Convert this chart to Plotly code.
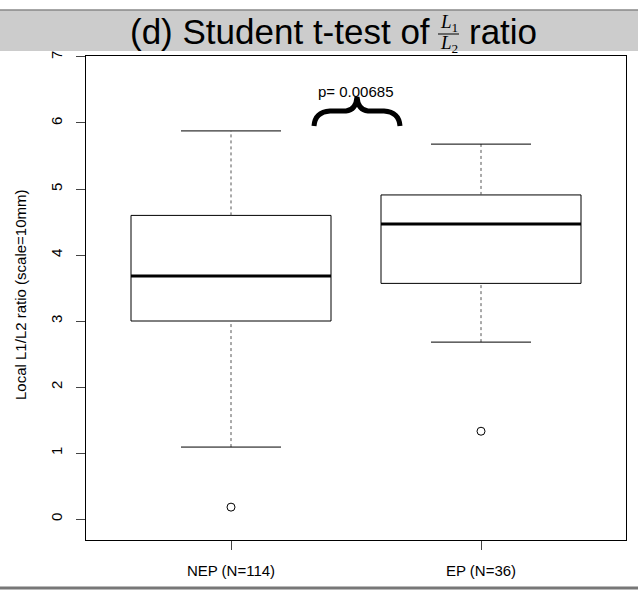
import plotly.graph_objects as go

# ---- data ----
categories = ["NEP (N=114)", "EP (N=36)"]
positions = [1, 2]
q1 = [3.00, 3.57]
median = [3.68, 4.47]
q3 = [4.60, 4.91]
lower_whisker = [1.09, 2.68]
upper_whisker = [5.88, 5.68]
outliers = [[0.18], [1.33]]
y_ticks = [0, 1, 2, 3, 4, 5, 6, 7]
p_value_text = "p= 0.00685"

W, H = 638, 591
L, R, T, B = 86, 12, 56, 51
PW, PH = W - L - R, H - T - B


def px(x):
    return (x - L) / PW


def py(y):
    return (H - B - y) / PH


FONT = "Liberation Sans, Arial, Helvetica, sans-serif"
fig = go.Figure()

half_box = 0.4
half_cap = 0.2
for i, pos in enumerate(positions):
    # box
    fig.add_trace(go.Scatter(
        x=[pos - half_box, pos + half_box, pos + half_box, pos - half_box, pos - half_box],
        y=[q1[i], q1[i], q3[i], q3[i], q1[i]],
        mode="lines", line=dict(color="black", width=1), hoverinfo="skip", showlegend=False))
    # whiskers
    fig.add_trace(go.Scatter(
        x=[pos, pos, None, pos, pos],
        y=[q3[i], upper_whisker[i], None, lower_whisker[i], q1[i]],
        mode="lines", line=dict(color="#555555", width=1, dash="3px,3px"),
        hoverinfo="skip", showlegend=False))
    # caps
    fig.add_trace(go.Scatter(
        x=[pos - half_cap, pos + half_cap, None, pos - half_cap, pos + half_cap],
        y=[upper_whisker[i], upper_whisker[i], None, lower_whisker[i], lower_whisker[i]],
        mode="lines", line=dict(color="black", width=1), hoverinfo="skip", showlegend=False))
    # median
    fig.add_trace(go.Scatter(
        x=[pos - half_box, pos + half_box], y=[median[i], median[i]],
        mode="lines", line=dict(color="black", width=3), hoverinfo="skip", showlegend=False))
    # outliers
    fig.add_trace(go.Scatter(
        x=[pos] * len(outliers[i]), y=outliers[i], mode="markers",
        marker=dict(symbol="circle-open", size=8, color="black", line=dict(width=1)),
        hoverinfo="skip", showlegend=False))

shapes = []
# title band
shapes.append(dict(type="rect", xref="paper", yref="paper",
                   x0=px(0), x1=px(W), y0=py(51), y1=py(10),
                   fillcolor="#cccccc", line=dict(width=0), layer="below"))
shapes.append(dict(type="line", xref="paper", yref="paper",
                   x0=px(0), x1=px(W), y0=py(10), y1=py(10),
                   line=dict(color="#888888", width=1.5)))
# bottom rule
shapes.append(dict(type="line", xref="paper", yref="paper",
                   x0=px(0), x1=px(W), y0=py(588), y1=py(588),
                   line=dict(color="#777777", width=3)))
# fraction bar
shapes.append(dict(type="line", xref="paper", yref="paper",
                   x0=px(438), x1=px(459), y0=py(34), y1=py(34),
                   line=dict(color="black", width=1)))
# curly brace
pts = [("M", 314, 126), ("Q", 315, 112, 330, 111), ("L", 346, 111),
       ("Q", 356, 110, 357, 97), ("Q", 358, 110, 368, 111), ("L", 384, 111),
       ("Q", 399, 112, 400, 126)]
path = ""
for p in pts:
    cmd, coords = p[0], p[1:]
    s = []
    for j in range(0, len(coords), 2):
        s.append(f"{px(coords[j]):.5f},{py(coords[j+1]):.5f}")
    path += cmd + " " + " ".join(s) + " "
shapes.append(dict(type="path", xref="paper", yref="paper", path=path.strip(),
                   line=dict(color="black", width=5)))

annotations = [
    dict(text="(d) Student t-test of", xref="paper", yref="paper",
         x=px(432), y=py(31), xanchor="right", yanchor="middle", showarrow=False,
         font=dict(family=FONT, size=35, color="black")),
    dict(text="ratio", xref="paper", yref="paper",
         x=px(467), y=py(31), xanchor="left", yanchor="middle", showarrow=False,
         font=dict(family=FONT, size=35, color="black")),
    dict(text="<i>L</i><sub>1</sub>", xref="paper", yref="paper",
         x=px(449), y=py(23), xanchor="center", yanchor="middle", showarrow=False,
         font=dict(family="Liberation Serif, serif", size=19, color="black")),
    dict(text="<i>L</i><sub>2</sub>", xref="paper", yref="paper",
         x=px(449), y=py(44), xanchor="center", yanchor="middle", showarrow=False,
         font=dict(family="Liberation Serif, serif", size=19, color="black")),
    dict(text=p_value_text, xref="paper", yref="paper",
         x=px(356), y=py(92), xanchor="center", yanchor="middle", showarrow=False,
         font=dict(family=FONT, size=15, color="black")),
    dict(text="Local L1/L2 ratio (scale=10mm)", xref="paper", yref="paper",
         x=px(20), y=py(295), xanchor="center", yanchor="middle", textangle=-90,
         showarrow=False, font=dict(family=FONT, size=15, color="black")),
]

fig.update_layout(
    width=W, height=H, margin=dict(l=L, r=R, t=T, b=B, autoexpand=False),
    paper_bgcolor="white", plot_bgcolor="white",
    font=dict(family=FONT, size=15, color="black"),
    shapes=shapes, annotations=annotations, showlegend=False,
    xaxis=dict(range=[0.42, 2.58], tickvals=positions, ticktext=categories,
               showgrid=False, zeroline=False, showline=True, mirror=True,
               linecolor="black", linewidth=1, ticks="outside", ticklen=9,
               tickcolor="#444444", ticklabelstandoff=8, fixedrange=True),
    yaxis=dict(range=[-0.318, 7.015], tickvals=y_ticks, tickangle=-90,
               showgrid=False, zeroline=False, showline=True, mirror=True,
               linecolor="black", linewidth=1, ticks="outside", ticklen=9,
               tickcolor="#444444", ticklabelstandoff=8, fixedrange=True),
)

fig.write_html("out.html", config={"displayModeBar": False},
               post_script="document.body.style.margin='0';")
